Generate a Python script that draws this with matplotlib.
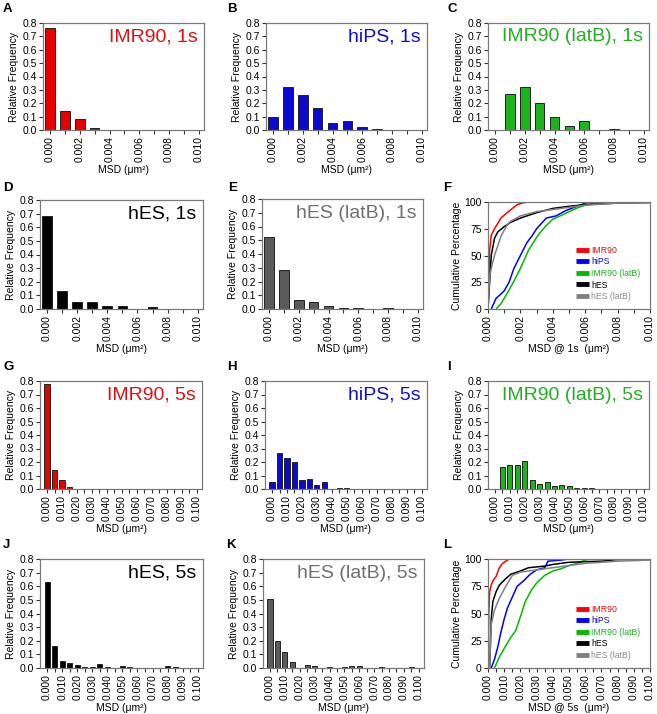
import matplotlib
matplotlib.use("Agg")
import matplotlib.pyplot as plt
from matplotlib.ticker import MultipleLocator, FormatStrFormatter

plt.rcParams['font.family'] = ['Liberation Sans', 'DejaVu Sans']

# ---------------- data ----------------
bins_1s = [0.000, 0.001, 0.002, 0.003, 0.004, 0.005, 0.006, 0.007, 0.008, 0.009, 0.010]
bins_5s = [0.000, 0.005, 0.010, 0.015, 0.020, 0.025, 0.030, 0.035, 0.040, 0.045, 0.050,
           0.055, 0.060, 0.065, 0.070, 0.075, 0.080, 0.085, 0.090, 0.095, 0.100]

imr90_1s      = [0.76, 0.14, 0.085, 0.015, 0, 0, 0, 0, 0, 0, 0]
hips_1s       = [0.095, 0.325, 0.26, 0.165, 0.055, 0.065, 0.02, 0.01, 0, 0, 0]
imr90latb_1s  = [0, 0.27, 0.32, 0.205, 0.095, 0.028, 0.065, 0, 0.01, 0, 0]
hes_1s        = [0.68, 0.13, 0.052, 0.052, 0.025, 0.025, 0, 0.012, 0, 0, 0]
heslatb_1s    = [0.525, 0.285, 0.065, 0.05, 0.02, 0.007, 0.007, 0, 0.007, 0, 0]

imr90_5s      = [0.775, 0.14, 0.07, 0.015, 0, 0, 0, 0, 0, 0, 0, 0, 0, 0, 0, 0, 0, 0, 0, 0, 0]
hips_5s       = [0.05, 0.265, 0.23, 0.20, 0.065, 0.075, 0.03, 0.055, 0, 0.01, 0.01,
                 0, 0, 0, 0, 0, 0, 0, 0, 0, 0]
imr90latb_5s  = [0, 0.165, 0.18, 0.18, 0.21, 0.065, 0.04, 0.05, 0.02, 0.028, 0.02,
                 0.01, 0.01, 0.01, 0, 0, 0, 0, 0, 0, 0]
hes_5s        = [0.63, 0.165, 0.055, 0.035, 0.025, 0.007, 0.007, 0.028, 0.007, 0, 0.012,
                 0.007, 0, 0, 0, 0, 0.012, 0.007, 0, 0, 0]
heslatb_5s    = [0.51, 0.20, 0.12, 0.045, 0, 0.022, 0.015, 0, 0.007, 0, 0.007,
                 0.015, 0.015, 0, 0, 0.007, 0, 0, 0, 0.007, 0]

# cumulative curves (x = MSD, y = cumulative percentage)
cum1_imr90_x = [0.0, 0.00005, 0.0001, 0.0002, 0.0004, 0.0006, 0.0008, 0.0011, 0.0015, 0.0018, 0.0021, 0.0025, 0.010]
cum1_imr90_y = [0, 30, 55, 69, 75, 80, 85, 89, 94, 97.5, 99, 100, 100]
cum1_hips_x = [0.0002, 0.0005, 0.0008, 0.001, 0.0013, 0.0016, 0.0018, 0.002, 0.0022, 0.0024, 0.0027, 0.003, 0.0033, 0.0036, 0.0042, 0.0048, 0.0055, 0.006, 0.0065, 0.010]
cum1_hips_y = [0, 10, 14, 17, 25, 38, 44, 50, 56, 62, 68, 75, 80, 85, 87, 92, 96, 99, 100, 100]
cum1_imr90latb_x = [0.0005, 0.0008, 0.001, 0.0012, 0.0016, 0.002, 0.0023, 0.0025, 0.0028, 0.003, 0.0033, 0.0036, 0.004, 0.0046, 0.005, 0.0056, 0.006, 0.0065, 0.008, 0.010]
cum1_imr90latb_y = [0, 5, 10, 15, 26, 38, 48, 55, 62, 67, 73, 78, 84, 88, 91, 95, 97, 99, 100, 100]
cum1_hes_x = [0.0, 0.0001, 0.0002, 0.0004, 0.0006, 0.001, 0.0014, 0.002, 0.003, 0.004, 0.005, 0.006, 0.008, 0.010]
cum1_hes_y = [0, 25, 50, 66, 72, 77, 81, 85, 90, 94, 96, 97.5, 99, 99.5]
cum1_heslatb_x = [0.0, 0.0001, 0.0002, 0.0004, 0.0008, 0.0012, 0.0014, 0.002, 0.003, 0.004, 0.005, 0.006, 0.008, 0.010]
cum1_heslatb_y = [0, 30, 38, 50, 68, 79, 82, 87, 91, 93, 95, 97, 99, 99.5]

cum5_imr90_x = [0.0, 0.0005, 0.001, 0.002, 0.003, 0.005, 0.007, 0.009, 0.011, 0.013, 0.100]
cum5_imr90_y = [0, 50, 70, 76, 80, 84, 92, 96, 98, 100, 100]
cum5_hips_x = [0.002, 0.004, 0.006, 0.008, 0.010, 0.012, 0.015, 0.018, 0.022, 0.026, 0.030, 0.035, 0.037, 0.045, 0.050, 0.100]
cum5_hips_y = [0, 8, 19, 33, 45, 55, 65, 75, 80, 86, 90, 92, 98, 99, 100, 100]
cum5_imr90latb_x = [0.004, 0.007, 0.010, 0.014, 0.017, 0.020, 0.023, 0.027, 0.030, 0.035, 0.040, 0.045, 0.050, 0.055, 0.060, 0.063, 0.100]
cum5_imr90latb_y = [0, 10, 18, 28, 34, 47, 61, 72, 78, 85, 89, 91, 94, 96, 99, 100, 100]
cum5_hes_x = [0.001, 0.002, 0.003, 0.005, 0.007, 0.011, 0.014, 0.020, 0.025, 0.035, 0.040, 0.050, 0.070, 0.080, 0.100]
cum5_hes_y = [0, 45, 61, 70, 76, 82, 86, 89, 92, 93.5, 95, 97, 98, 99.5, 100]
cum5_heslatb_x = [0.001, 0.002, 0.004, 0.007, 0.011, 0.015, 0.020, 0.030, 0.040, 0.050, 0.060, 0.070, 0.080, 0.100]
cum5_heslatb_y = [0, 40, 53, 64, 75, 85, 88, 90, 92, 94, 96, 97, 98, 99]

# ---------------- styling ----------------
W, H = 657, 714
fig = plt.figure(figsize=(W / 100, H / 100), dpi=100)

col_red, col_blue, col_green, col_black, col_gray = '#e60000', '#0a0ad2', '#1db31d', '#000000', '#5a5a5a'
txt_red, txt_blue, txt_green, txt_black, txt_gray = '#e01010', '#1010c8', '#22b022', '#000000', '#707070'
line_gray = '#808080'
FS = 7.5

def add_ax(l, t, r, b):
    return fig.add_axes([l / W, 1 - b / H, (r - l) / W, (b - t) / H])

def style(ax):
    for s in ax.spines.values():
        s.set_color('#7a7a7a')
        s.set_linewidth(0.9)
    ax.tick_params(which='both', direction='out', length=3, width=0.8, labelsize=FS, pad=1.5, color='#333333')
    for lab in ax.get_xticklabels():
        lab.set_rotation(90)

def hist(ax, bins, vals, width, color, title, tcol, xmax, xmaj, xmin_step, xlabel):
    ax.bar(bins, vals, width=width, color=color, edgecolor='#222222', linewidth=0.7)
    ax.set_ylim(0, 0.8)
    ax.yaxis.set_major_locator(MultipleLocator(0.1))
    ax.yaxis.set_major_formatter(FormatStrFormatter('%.1f'))
    ax.set_xlim(-xmax * 0.047, xmax * 1.035)
    ax.xaxis.set_major_locator(MultipleLocator(xmaj))
    ax.xaxis.set_minor_locator(MultipleLocator(xmin_step))
    ax.xaxis.set_major_formatter(FormatStrFormatter('%.3f'))
    ax.set_ylabel('Relative Frequency', fontsize=FS, labelpad=2)
    ax.set_xlabel(xlabel, fontsize=FS, labelpad=2)
    ax.text(0.96, 0.87, title, color=tcol, fontsize=14, ha='right', va='center', transform=ax.transAxes)
    style(ax)

def cum(ax, curves, xmax, xmaj, xminor, xlabel):
    for x, y, c, lab in curves:
        ax.plot(x, y, color=c, lw=1.1, label=lab, solid_capstyle='butt')
    ax.set_xlim(0, xmax)
    ax.set_ylim(0, 100)
    ax.yaxis.set_major_locator(MultipleLocator(25))
    ax.xaxis.set_major_locator(MultipleLocator(xmaj))
    ax.xaxis.set_minor_locator(MultipleLocator(xminor))
    ax.xaxis.set_major_formatter(FormatStrFormatter('%.3f'))
    ax.set_ylabel('Cumulative Percentage', fontsize=FS, labelpad=2)
    ax.set_xlabel(xlabel, fontsize=FS, labelpad=2)
    leg = ax.legend(loc='lower right', bbox_to_anchor=(0.99, 0.0), frameon=False, fontsize=6.3,
                    handlelength=1.5, handletextpad=0.3, labelspacing=0.3)
    for h in leg.get_lines():
        h.set_linewidth(3.5)
        h.set_solid_capstyle('butt')
    for t, c in zip(leg.get_texts(), [txt_red, txt_blue, txt_green, txt_black, '#8a8a8a']):
        t.set_color(c)
    style(ax)

msd_label = 'MSD (μm²)'

# Row 1
hist(add_ax(43, 23, 204, 130), bins_1s, imr90_1s, 0.00065, col_red, 'IMR90, 1s', txt_red, 0.010, 0.002, 0.001, msd_label)
hist(add_ax(266, 23, 427, 130), bins_1s, hips_1s, 0.00065, col_blue, 'hiPS, 1s', txt_blue, 0.010, 0.002, 0.001, msd_label)
hist(add_ax(488, 23, 649, 130), bins_1s, imr90latb_1s, 0.00065, col_green, 'IMR90 (latB), 1s', txt_green, 0.010, 0.002, 0.001, msd_label)

# Row 2
hist(add_ax(40, 200, 203, 309), bins_1s, hes_1s, 0.00065, col_black, 'hES, 1s', txt_black, 0.010, 0.002, 0.001, msd_label)
hist(add_ax(262, 199, 423, 309), bins_1s, heslatb_1s, 0.00065, col_gray, 'hES (latB), 1s', txt_gray, 0.010, 0.002, 0.001, msd_label)
cum(add_ax(488, 202, 650, 309),
    [(cum1_imr90_x, cum1_imr90_y, '#ff0000', 'IMR90'),
     (cum1_hips_x, cum1_hips_y, '#0000ff', 'hiPS'),
     (cum1_imr90latb_x, cum1_imr90latb_y, '#00bb00', 'IMR90 (latB)'),
     (cum1_hes_x, cum1_hes_y, '#000000', 'hES'),
     (cum1_heslatb_x, cum1_heslatb_y, line_gray, 'hES (latB)')],
    0.010, 0.002, 0.001, 'MSD @ 1s  (μm²)')

# Row 3
hist(add_ax(40, 381, 202, 489), bins_5s, imr90_5s, 0.0034, col_red, 'IMR90, 5s', txt_red, 0.100, 0.010, 0.005, msd_label)
hist(add_ax(265, 381, 427, 489), bins_5s, hips_5s, 0.0034, col_blue, 'hiPS, 5s', txt_blue, 0.100, 0.010, 0.005, msd_label)
hist(add_ax(488, 381, 649, 489), bins_5s, imr90latb_5s, 0.0034, col_green, 'IMR90 (latB), 5s', txt_green, 0.100, 0.010, 0.005, msd_label)

# Row 4
hist(add_ax(40, 559, 203, 668), bins_5s, hes_5s, 0.0034, col_black, 'hES, 5s', txt_black, 0.100, 0.010, 0.005, msd_label)
hist(add_ax(263, 559, 424, 668), bins_5s, heslatb_5s, 0.0034, col_gray, 'hES (latB), 5s', txt_gray, 0.100, 0.010, 0.005, msd_label)
cum(add_ax(488, 559, 650, 668),
    [(cum5_imr90_x, cum5_imr90_y, '#ff0000', 'IMR90'),
     (cum5_hips_x, cum5_hips_y, '#0000ff', 'hiPS'),
     (cum5_imr90latb_x, cum5_imr90latb_y, '#00bb00', 'IMR90 (latB)'),
     (cum5_hes_x, cum5_hes_y, '#000000', 'hES'),
     (cum5_heslatb_x, cum5_heslatb_y, line_gray, 'hES (latB)')],
    0.100, 0.010, 0.005, 'MSD @ 5s  (μm²)')

# Panel letters
letters = [('A', 3, 3), ('B', 227, 3), ('C', 447, 3),
           ('D', 3, 182), ('E', 228, 182), ('F', 443, 182),
           ('G', 3, 361), ('H', 227, 361), ('I', 447, 361),
           ('J', 3, 539), ('K', 226, 539), ('L', 443, 539)]
for s, x, y in letters:
    fig.text(x / W, 1 - y / H, s, fontsize=9.5, fontweight='bold', ha='left', va='top')

fig.savefig('out.png', dpi=100)
